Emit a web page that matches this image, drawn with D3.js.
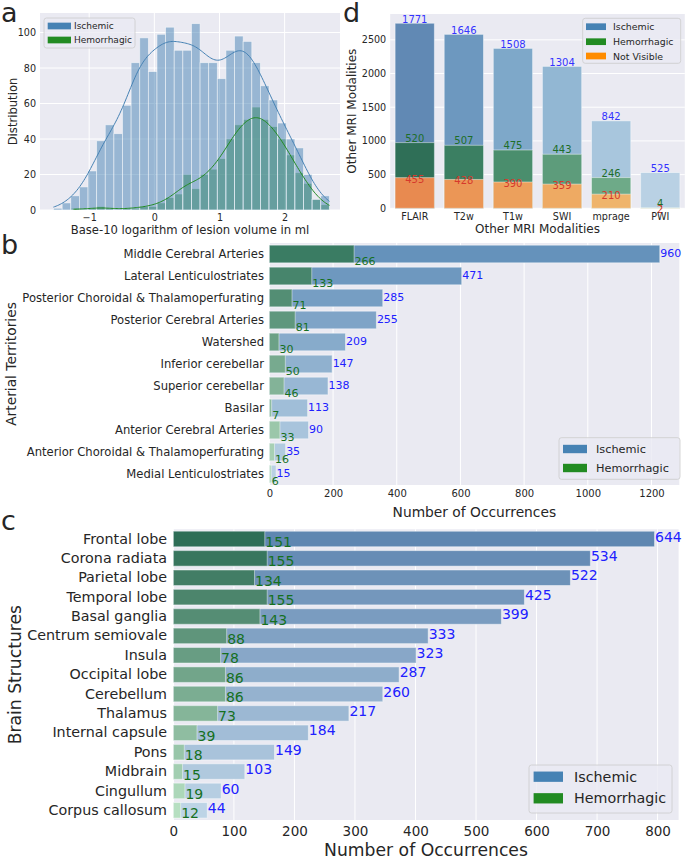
<!DOCTYPE html>
<html><head><meta charset="utf-8">
<script src="https://cdn.jsdelivr.net/npm/d3@7/dist/d3.min.js"></script>
<style>
body{margin:0;background:#fff;}
svg text{font-family:"DejaVu Sans",sans-serif;}
</style></head>
<body>
<svg id="fig" width="685" height="859" xmlns="http://www.w3.org/2000/svg"></svg>
<script>
// ---------------- DATA ----------------
// Panel a : histogram of base-10 log lesion volume (counts per bin)
const lesionBinStart = -1.547;
const lesionBinWidth = 0.1323;
const ischemicHist    = [1,4,8,13,22,39,48,43,59,83,97,78,99,103,90,90,105,83,83,74,90,98,95,83,70,62,49,40,35,20,6,8];
const hemorrhagicHist = [0,0,1,0,1,2,1,0,1,1,2,2,4,7,9,20,12,20,23,29,40,48,51,58,51,47,40,31,21,15,6,3];
const ischemicRange    = [-1.55, 2.69];
const hemorrhagicRange = [-1.24, 2.69];
const lesionTicks = [-1, 0, 1, 2];
const distTicks   = [0, 20, 40, 60, 80, 100];

// Panel d : other MRI modalities
const modalities   = ["FLAIR", "T2w", "T1w", "SWI", "mprage", "PWI"];
const modIschemic  = [1771, 1646, 1508, 1304, 842, 525];
const modHemorrh   = [520, 507, 475, 443, 246, 4];
const modNotVisible= [455, 428, 390, 359, 210, 2];
const modTicks     = [0, 500, 1000, 1500, 2000, 2500];

// Panel b : arterial territories
const territories = ["Middle Cerebral Arteries","Lateral Lenticulostriates","Posterior Choroidal & Thalamoperfurating",
  "Posterior Cerebral Arteries","Watershed","Inferior cerebellar","Superior cerebellar","Basilar",
  "Anterior Cerebral Arteries","Anterior Choroidal & Thalamoperfurating","Medial Lenticulostriates"];
const terrIschemic = [960, 471, 285, 255, 209, 147, 138, 113, 90, 35, 15];
const terrHemorrh  = [266, 133, 71, 81, 30, 50, 46, 7, 33, 16, 6];
const terrTicks    = [0, 200, 400, 600, 800, 1000, 1200];

// Panel c : brain structures
const structures = ["Frontal lobe","Corona radiata","Parietal lobe","Temporal lobe","Basal ganglia","Centrum semiovale",
  "Insula","Occipital lobe","Cerebellum","Thalamus","Internal capsule","Pons","Midbrain","Cingullum","Corpus callosum"];
const structIschemic = [644, 534, 522, 425, 399, 333, 323, 287, 260, 217, 184, 149, 103, 60, 44];
const structHemorrh  = [151, 155, 134, 155, 143, 88, 78, 86, 86, 73, 39, 18, 15, 19, 12];
const structTicks    = [0, 100, 200, 300, 400, 500, 600, 700, 800];

// ---------------- STYLE ----------------
const BG = "#eaeaf2", TXT = "#262626";
const C_ISC = "#4682b4", C_HEM = "#228b22", C_NV = "#ff8c00";
const svg = d3.select("#fig");

function cleanAxis(g, fs) {
  g.select(".domain").remove();
  g.selectAll(".tick line").remove();
  g.selectAll(".tick text").attr("font-size", fs).attr("fill", TXT)
    .attr("font-family", '"DejaVu Sans", sans-serif');
}
function gridX(g, scale, ticks, y0, y1) {
  g.append("g").selectAll("line").data(ticks).join("line")
    .attr("x1", d => scale(d)).attr("x2", d => scale(d)).attr("y1", y0).attr("y2", y1)
    .attr("stroke", "#fff").attr("stroke-width", 1);
}
function gridY(g, scale, ticks, x0, x1) {
  g.append("g").selectAll("line").data(ticks).join("line")
    .attr("y1", d => scale(d)).attr("y2", d => scale(d)).attr("x1", x0).attr("x2", x1)
    .attr("stroke", "#fff").attr("stroke-width", 1);
}
function label(g, x, y, txt, fs, opts = {}) {
  const t = g.append("text").attr("x", x).attr("y", y).text(txt).attr("font-size", fs)
    .attr("fill", opts.fill || TXT).attr("text-anchor", opts.anchor || "start");
  if (opts.rotate) t.attr("transform", `rotate(-90,${x},${y})`);
  if (opts.baseline) t.attr("dominant-baseline", opts.baseline);
  if (opts.family) t.attr("font-family", opts.family);
  return t;
}
function legend(g, x0, y0, w, h, items, px, pw, ph, rows, tx, fs) {
  g.append("rect").attr("x", x0).attr("y", y0).attr("width", w).attr("height", h)
    .attr("rx", 2.5).attr("fill", BG).attr("fill-opacity", 0.8).attr("stroke", "#cccccc").attr("stroke-width", 0.8);
  items.forEach((it, i) => {
    g.append("rect").attr("x", px).attr("y", rows[i] - ph / 2).attr("width", pw).attr("height", ph).attr("fill", it[1]);
    label(g, tx, rows[i], it[0], fs, { baseline: "central" });
  });
}
function palette(c0, c1, n) { return d3.quantize(d3.interpolateLab(c0, c1), n); }
const LETTER_FONT = '"Liberation Sans", Arial, sans-serif';

// ================= PANEL a =================
{
  const L = 40, R = 340, T = 13, B = 210;
  const g = svg.append("g");
  const x = d3.scaleLinear().domain([-1.755, 2.85]).range([L, R]);
  const y = d3.scaleLinear().domain([0, 111]).range([B, T]);
  g.append("rect").attr("x", L).attr("y", T).attr("width", R - L).attr("height", B - T).attr("fill", BG);
  gridX(g, x, lesionTicks, T, B);
  gridY(g, y, distTicks, L, R);

  const bins = (arr) => arr.map((c, i) => ({ x0: lesionBinStart + i * lesionBinWidth, x1: lesionBinStart + (i + 1) * lesionBinWidth, c }));
  function drawHist(arr, col) {
    g.append("g").selectAll("rect").data(bins(arr).filter(d => d.c > 0)).join("rect")
      .attr("x", d => x(d.x0)).attr("width", d => x(d.x1) - x(d.x0))
      .attr("y", d => y(d.c)).attr("height", d => y(0) - y(d.c))
      .attr("fill", col).attr("fill-opacity", 0.5)
      .attr("stroke", "#ffffff").attr("stroke-opacity", 0.6).attr("stroke-width", 0.8);
  }
  drawHist(hemorrhagicHist, C_HEM);
  drawHist(ischemicHist, C_ISC);

  function kde(counts, range) {
    const centers = counts.map((c, i) => lesionBinStart + (i + 0.5) * lesionBinWidth);
    const N = d3.sum(counts);
    const mean = d3.sum(counts, (c, i) => c * centers[i]) / N;
    const v = d3.sum(counts, (c, i) => c * (centers[i] - mean) ** 2) / (N - 1);
    const bw = Math.sqrt(v) * Math.pow(N, -0.2);
    const xs = d3.range(201).map(k => range[0] + (range[1] - range[0]) * k / 200);
    return xs.map(xx => [xx, d3.sum(counts, (c, i) => c * Math.exp(-0.5 * ((xx - centers[i]) / bw) ** 2)) / (bw * Math.sqrt(2 * Math.PI)) * lesionBinWidth]);
  }
  const line = d3.line().x(d => x(d[0])).y(d => y(d[1])).curve(d3.curveBasis);
  g.append("path").attr("d", line(kde(ischemicHist, ischemicRange))).attr("fill", "none").attr("stroke", C_ISC).attr("stroke-width", 1);
  g.append("path").attr("d", line(kde(hemorrhagicHist, hemorrhagicRange))).attr("fill", "none").attr("stroke", C_HEM).attr("stroke-width", 1);

  const ax = g.append("g").attr("transform", `translate(0,${B})`).call(d3.axisBottom(x).tickValues(lesionTicks).tickSize(0).tickPadding(4.5).tickFormat(d3.format("d")));
  cleanAxis(ax, 9.6);
  const ay = g.append("g").attr("transform", `translate(${L},0)`).call(d3.axisLeft(y).tickValues(distTicks).tickSize(0).tickPadding(4));
  cleanAxis(ay, 9.6);
  label(g, (L + R) / 2, 233.5, "Base-10 logarithm of lesion volume in ml", 11.6, { anchor: "middle" });
  label(g, 12.5, (T + B) / 2, "Distribution", 11.6, { anchor: "middle", rotate: true, baseline: "central" });
  legend(g, 44, 18, 91, 30, [["Ischemic", C_ISC], ["Hemorrhagic", C_HEM]], 47.7, 23.3, 6.7, [26, 40], 74, 9);
  label(g, 1, 22, "a", 27, { family: LETTER_FONT });
}

// ================= PANEL d =================
{
  const L = 390.2, R = 684.8, T = 14, B = 208.3;
  const g = svg.append("g");
  const x = d3.scaleBand().domain(modalities).range([L, R]).paddingInner(0.2).paddingOuter(0.1);
  const tot = modalities.map((m, i) => modIschemic[i] + modHemorrh[i] + modNotVisible[i]);
  const y = d3.scaleLinear().domain([0, d3.max(tot) * 1.05]).range([B, T]);
  g.append("rect").attr("x", L).attr("y", T).attr("width", R - L).attr("height", B - T).attr("fill", BG);
  gridY(g, y, modTicks, L, R);
  const blues = ["#6189b4", "#6d98bf", "#7ea8c9", "#92b7d3", "#a8c6dd", "#b9d1e4"];
  const greens = ["#2f6f57", "#3b7f62", "#4a8e6d", "#5d9c7b", "#6eaa88", "#7fb894"];
  const oranges = ["#e88a50", "#eb9656", "#eca05c", "#eeaa63", "#efb46b", "#f1bd74"];
  const data = modalities.map((m, i) => ({ m, i, isc: modIschemic[i], hem: modHemorrh[i], nv: modNotVisible[i], tot: tot[i] }));
  const bar = (v, colors) => g.append("g").selectAll("rect").data(data).join("rect")
    .attr("x", d => x(d.m)).attr("width", x.bandwidth())
    .attr("y", d => y(v(d))).attr("height", d => B - y(v(d)))
    .attr("fill", d => colors[d.i]).attr("stroke", "#ffffff").attr("stroke-opacity", 0.45).attr("stroke-width", 1);
  bar(d => d.tot, blues);
  bar(d => d.hem + d.nv, greens);
  bar(d => d.nv, oranges);
  const lbl = (v, txtv, col, dy) => g.append("g").selectAll("text").data(data).join("text")
    .attr("x", d => x(d.m) + x.bandwidth() / 2).attr("y", d => y(v(d)) + dy)
    .attr("text-anchor", "middle").attr("font-size", 10).attr("fill", col).text(txtv);
  lbl(d => d.tot, d => d.isc, "#3333ff", -0.5);
  lbl(d => d.hem + d.nv, d => d.hem, "#1e6e28", -1);
  lbl(d => d.nv, d => d.nv, "#d63a2c", 5);

  const ax = g.append("g").attr("transform", `translate(0,${B})`).call(d3.axisBottom(x).tickSize(0).tickPadding(5));
  cleanAxis(ax, 9.6);
  const ay = g.append("g").attr("transform", `translate(${L},0)`).call(d3.axisLeft(y).tickValues(modTicks).tickSize(0).tickPadding(4).tickFormat(d3.format("d")));
  cleanAxis(ay, 9.6);
  label(g, (L + R) / 2, 233, "Other MRI Modalities", 12, { anchor: "middle" });
  label(g, 352, (T + B) / 2, "Other MRI Modalities", 12, { anchor: "middle", rotate: true, baseline: "central" });
  legend(g, 582.7, 18.3, 98, 45, [["Ischemic", C_ISC], ["Hemorrhagic", C_HEM], ["Not Visible", C_NV]], 586, 20, 6.7, [26.7, 41.7, 56], 613, 9.4);
  label(g, 343, 22, "d", 27, { family: LETTER_FONT });
}

// ================= horizontal panels b & c =================
function hPanel(cfg) {
  const { cats, isc, hem, ticks, L, R, T, B, tickFs, catFs, valFs, axFs, blueDy, greenDy, letter, letterY, xlabY, ylabX, ylab, leg } = cfg;
  const g = svg.append("g");
  const tot = cats.map((c, i) => isc[i] + hem[i]);
  const x = d3.scaleLinear().domain([0, d3.max(tot) * 1.05]).range([L, R]);
  const y = d3.scaleBand().domain(cats).range([T, B]).paddingInner(0.2).paddingOuter(0.1);
  g.append("rect").attr("x", L).attr("y", T).attr("width", R - L).attr("height", B - T).attr("fill", BG);
  gridX(g, x, ticks, T, B);
  const blues = palette(cfg.blue0, cfg.blue1, cats.length);
  const greens = palette(cfg.green0, cfg.green1, cats.length);
  const data = cats.map((c, i) => ({ c, i, isc: isc[i], hem: hem[i], tot: tot[i] }));
  g.append("g").selectAll("rect").data(data).join("rect")
    .attr("x", x(0)).attr("y", d => y(d.c)).attr("height", y.bandwidth())
    .attr("width", d => x(d.tot) - x(0)).attr("fill", d => blues[d.i])
    .attr("stroke", "#fff").attr("stroke-opacity", 0.45).attr("stroke-width", 1);
  g.append("g").selectAll("rect").data(data).join("rect")
    .attr("x", x(0)).attr("y", d => y(d.c)).attr("height", y.bandwidth())
    .attr("width", d => x(d.hem) - x(0)).attr("fill", d => greens[d.i])
    .attr("stroke", "#fff").attr("stroke-opacity", 0.45).attr("stroke-width", 1);
  const mid = d => y(d.c) + y.bandwidth() / 2;
  g.append("g").selectAll("text").data(data).join("text")
    .attr("x", d => x(d.tot) + 0.5).attr("y", d => mid(d) + blueDy).attr("font-size", valFs)
    .attr("fill", "#2020ff").text(d => d.isc);
  g.append("g").selectAll("text").data(data).join("text")
    .attr("x", d => x(d.hem) + 0.5).attr("y", d => mid(d) + greenDy).attr("font-size", valFs)
    .attr("fill", "#16701f").text(d => d.hem);
  const ax = g.append("g").attr("transform", `translate(0,${B})`).call(d3.axisBottom(x).tickValues(ticks).tickSize(0).tickPadding(cfg.xPad).tickFormat(d3.format("d")));
  cleanAxis(ax, tickFs);
  const ay = g.append("g").attr("transform", `translate(${L},0)`).call(d3.axisLeft(y).tickSize(0).tickPadding(cfg.yPad));
  cleanAxis(ay, catFs);
  label(g, (L + R) / 2, xlabY, "Number of Occurrences", axFs, { anchor: "middle" });
  label(g, ylabX, (T + B) / 2, ylab, axFs, { anchor: "middle", rotate: true, baseline: "central" });
  legend(g, leg.x, leg.y, leg.w, leg.h, [["Ischemic", C_ISC], ["Hemorrhagic", C_HEM]], leg.px, leg.pw, leg.ph, leg.rows, leg.tx, leg.fs);
  label(g, 1, letterY, letter, 27, { family: LETTER_FONT });
}

hPanel({
  cats: territories, isc: terrIschemic, hem: terrHemorrh, ticks: terrTicks,
  L: 269.4, R: 679.3, T: 243, B: 485, tickFs: 10, catFs: 11.6, valFs: 11, axFs: 13.8,
  blueDy: 2.5, greenDy: 10.5, xPad: 5, yPad: 5.4, letter: "b", letterY: 254, xlabY: 517, ylabX: 11,
  ylab: "Arterial Territories",
  blue0: "#6592bb", blue1: "#b9d1e4", green0: "#3a7c63", green1: "#b3dabd",
  leg: { x: 559, y: 437.7, w: 121, h: 41.6, px: 563, pw: 24, ph: 8.4, rows: [449, 468], tx: 596, fs: 11.3 }
});

hPanel({
  cats: structures, isc: structIschemic, hem: structHemorrh, ticks: structTicks,
  L: 173.4, R: 678.6, T: 529.3, B: 820, tickFs: 13.5, catFs: 14.3, valFs: 14, axFs: 17.2,
  blueDy: 2.7, greenDy: 8, xPad: 6, yPad: 6.4, letter: "c", letterY: 530, xlabY: 856, ylabX: 15,
  ylab: "Brain Structures",
  blue0: "#5f87b1", blue1: "#bdd4e6", green0: "#2e6e57", green1: "#b6dfc1",
  leg: { x: 529, y: 765, w: 143, h: 48, px: 533.6, pw: 29.4, ph: 10.3, rows: [776.7, 798.3], tx: 574, fs: 14.3 }
});
</script>
</body></html>
